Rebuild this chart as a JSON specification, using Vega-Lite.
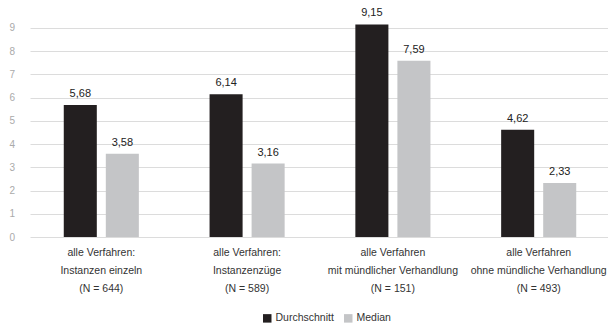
{
  "$schema": "https://vega.github.io/schema/vega-lite/v6.json",
  "width": 580,
  "height": 223,
  "autosize": {"type": "none"},
  "padding": {"left": 30, "top": 14, "right": 0, "bottom": 90},
  "background": "white",
  "config": {
    "locale": {
      "number": {"decimal": ",", "thousands": ".", "grouping": [3], "currency": ["", " €"]}
    },
    "font": "Liberation Sans",
    "view": {"stroke": null}
  },
  "data": {
    "values": [
      {"gruppe": "alle Verfahren:|Instanzen einzeln|(N = 644)", "kennzahl": "Durchschnitt", "wert": 5.68},
      {"gruppe": "alle Verfahren:|Instanzen einzeln|(N = 644)", "kennzahl": "Median", "wert": 3.58},
      {"gruppe": "alle Verfahren:|Instanzenzüge|(N = 589)", "kennzahl": "Durchschnitt", "wert": 6.14},
      {"gruppe": "alle Verfahren:|Instanzenzüge|(N = 589)", "kennzahl": "Median", "wert": 3.16},
      {"gruppe": "alle Verfahren|mit mündlicher Verhandlung|(N = 151)", "kennzahl": "Durchschnitt", "wert": 9.15},
      {"gruppe": "alle Verfahren|mit mündlicher Verhandlung|(N = 151)", "kennzahl": "Median", "wert": 7.59},
      {"gruppe": "alle Verfahren|ohne mündliche Verhandlung|(N = 493)", "kennzahl": "Durchschnitt", "wert": 4.62},
      {"gruppe": "alle Verfahren|ohne mündliche Verhandlung|(N = 493)", "kennzahl": "Median", "wert": 2.33}
    ]
  },
  "encoding": {
    "x": {
      "field": "gruppe",
      "type": "nominal",
      "sort": null,
      "scale": {"paddingInner": 0.485, "paddingOuter": 0.2316},
      "axis": {
        "title": null,
        "labelAngle": 0,
        "labelExpr": "split(datum.label, '|')",
        "labelLineHeight": 18,
        "labelFontSize": 10.5,
        "labelColor": "#333333",
        "labelPadding": 10,
        "labelBaseline": "top",
        "ticks": false,
        "domain": false,
        "grid": false
      }
    },
    "xOffset": {
      "field": "kennzahl",
      "type": "nominal",
      "sort": ["Durchschnitt", "Median"],
      "scale": {"paddingInner": 0.214, "paddingOuter": 0}
    },
    "y": {
      "field": "wert",
      "type": "quantitative",
      "scale": {"domain": [0, 9.6], "nice": false},
      "axis": {
        "title": null,
        "values": [0, 1, 2, 3, 4, 5, 6, 7, 8, 9],
        "labelAlign": "left",
        "labelPadding": 21,
        "labelFontSize": 10,
        "labelColor": "#aaaaaa",
        "ticks": false,
        "domain": false,
        "gridColor": "#dcdcdc",
        "gridWidth": 1
      }
    }
  },
  "layer": [
    {
      "mark": {"type": "bar"},
      "encoding": {
        "color": {
          "field": "kennzahl",
          "type": "nominal",
          "sort": ["Durchschnitt", "Median"],
          "scale": {"domain": ["Durchschnitt", "Median"], "range": ["#231f20", "#c4c5c7"]},
          "legend": {
            "title": null,
            "orient": "none",
            "direction": "horizontal",
            "legendX": 232,
            "legendY": 299,
            "symbolType": "square",
            "symbolSize": 72,
            "symbolStrokeWidth": 0,
            "labelFontSize": 10.5,
            "labelColor": "#333333",
            "labelOffset": 3,
            "columnPadding": 9
          }
        }
      }
    },
    {
      "mark": {"type": "text", "baseline": "alphabetic", "dy": -8, "fontSize": 11, "color": "#222222"},
      "encoding": {
        "text": {"field": "wert", "type": "quantitative", "format": ".2f"}
      }
    }
  ]
}
